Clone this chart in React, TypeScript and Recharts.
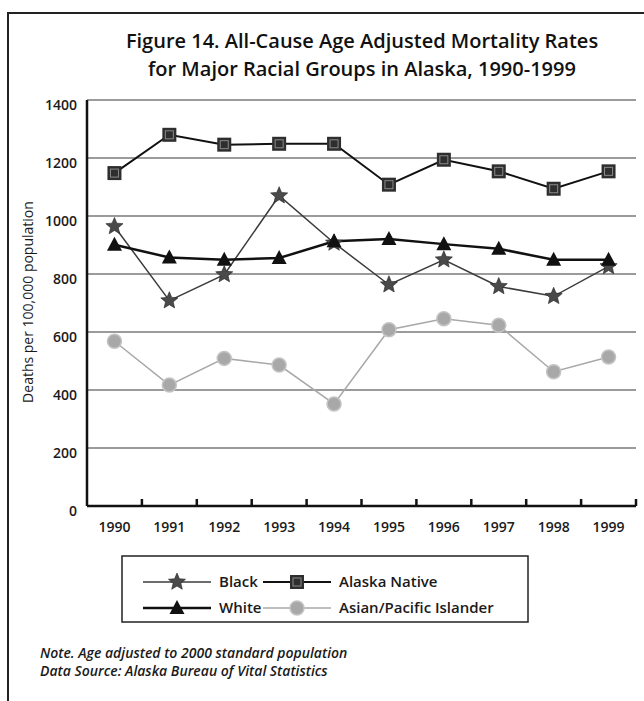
import React from 'react'
import { LineChart, Line, XAxis, YAxis, CartesianGrid } from 'recharts'

const years = ['1990', '1991', '1992', '1993', '1994', '1995', '1996', '1997', '1998', '1999']
const black = [964, 708, 798, 1070, 907, 763, 849, 757, 723, 826]
const white = [901, 857, 849, 855, 913, 921, 903, 887, 849, 849]
const alaskaNative = [1148, 1280, 1246, 1249, 1249, 1108, 1194, 1154, 1094, 1154]
const asianPacific = [568, 417, 509, 486, 352, 608, 646, 623, 463, 514]
const yTicks = [0, 200, 400, 600, 800, 1000, 1200, 1400]

const data = years.map((year, i) => ({
  year,
  black: black[i],
  white: white[i],
  alaskaNative: alaskaNative[i],
  asianPacific: asianPacific[i],
}))

const FONT = '"Open Sans", "Noto Sans", sans-serif'
const W = 644
const PLOT_LEFT = 87
const PLOT_RIGHT = 636
const HALF_BAND = (PLOT_RIGHT - PLOT_LEFT) / years.length / 2

function starPath(cx: number, cy: number, r: number) {
  const inner = r * 0.45
  let d = ''
  for (let k = 0; k < 10; k++) {
    const rad = k % 2 === 0 ? r : inner
    const a = -Math.PI / 2 + (k * Math.PI) / 5
    d += (k === 0 ? 'M' : 'L') + (cx + rad * Math.cos(a)).toFixed(2) + ',' + (cy + rad * Math.sin(a)).toFixed(2)
  }
  return d + 'Z'
}

function Star({ cx, cy }: any) {
  if (cx == null || cy == null) return null
  return <path d={starPath(cx, cy, 9)} fill="#4a4a4a" stroke="#222" strokeWidth={0.6} />
}

function Square({ cx, cy }: any) {
  if (cx == null || cy == null) return null
  return (
    <g>
      <rect x={cx - 7} y={cy - 7} width={14} height={14} fill="#2e2e2e" />
      <rect x={cx - 4} y={cy - 4} width={8} height={8} fill="none" stroke="#8a8a8a" strokeWidth={1} />
    </g>
  )
}

function Triangle({ cx, cy }: any) {
  if (cx == null || cy == null) return null
  return <path d={`M${cx},${cy - 8} L${cx + 7.5},${cy + 6} L${cx - 7.5},${cy + 6} Z`} fill="#111" />
}

function Circle({ cx, cy }: any) {
  if (cx == null || cy == null) return null
  return <circle cx={cx} cy={cy} r={7} fill="#a8a8a8" stroke="#c4c4c4" strokeWidth={1.5} />
}

function YearTick({ x, payload }: any) {
  return (
    <g>
      <line x1={x + HALF_BAND} y1={506} x2={x + HALF_BAND} y2={499} stroke="#111" strokeWidth={2.5} />
      <text x={x} y={532} textAnchor="middle" fontSize={14} fontWeight={600} fontFamily={FONT} fill="#1a1a1a">
        {payload.value}
      </text>
    </g>
  )
}

function LegendRow({ x, y, label, marker, stroke, width }: any) {
  return (
    <g>
      <line x1={x} y1={y} x2={x + 68} y2={y} stroke={stroke} strokeWidth={width} />
      {marker}
      <text x={x + 76} y={y + 5} fontSize={15} fontWeight={600} fontFamily={FONT} fill="#1a1a1a">
        {label}
      </text>
    </g>
  )
}

export default function App() {
  return (
    <div style={{ position: 'absolute', left: 0, top: 0, width: W, height: 701, background: '#fff', overflow: 'hidden' }}>
      <div
        style={{
          position: 'absolute',
          left: 7,
          top: 12,
          width: W,
          height: 701,
          borderLeft: '2px solid #222',
          borderTop: '2px solid #222',
        }}
      />
      <div style={{ position: 'absolute', left: 0, top: 0 }}>
        <LineChart width={W} height={560} data={data} margin={{ top: 100, right: W - PLOT_RIGHT, left: PLOT_LEFT - 60, bottom: 24 }}>
          <CartesianGrid stroke="#7a7a7a" strokeWidth={1.5} vertical={false} />
          <XAxis
            dataKey="year"
            tick={<YearTick />}
            tickLine={false}
            tickSize={0}
            height={30}
            padding={{ left: HALF_BAND, right: HALF_BAND }}
            axisLine={{ stroke: '#111', strokeWidth: 2.5 }}
            interval={0}
          />
          <YAxis
            domain={[0, 1400]}
            ticks={yTicks}
            width={60}
            tickLine={false}
            tickSize={0}
            axisLine={{ stroke: '#111', strokeWidth: 2.5 }}
            tick={{ fontSize: 14, fontWeight: 600, fill: '#1a1a1a', fontFamily: FONT, dx: -8, dy: 5 }}
          />
          <Line dataKey="asianPacific" stroke="#a8a8a8" strokeWidth={1.5} dot={<Circle />} isAnimationActive={false} />
          <Line dataKey="black" stroke="#3c3c3c" strokeWidth={1.5} dot={<Star />} isAnimationActive={false} />
          <Line dataKey="white" stroke="#111" strokeWidth={2.5} dot={<Triangle />} isAnimationActive={false} />
          <Line dataKey="alaskaNative" stroke="#111" strokeWidth={2} dot={<Square />} isAnimationActive={false} />
        </LineChart>
      </div>
      <svg width={W} height={701} style={{ position: 'absolute', left: 0, top: 0, pointerEvents: 'none' }}>
        <text x={362} y={48} textAnchor="middle" fontSize={20} fontWeight={600} fontFamily={FONT} fill="#111">
          Figure 14. All-Cause Age Adjusted Mortality Rates
        </text>
        <text x={362} y={76} textAnchor="middle" fontSize={20} fontWeight={600} fontFamily={FONT} fill="#111">
          for Major Racial Groups in Alaska, 1990-1999
        </text>
        <text x={0} y={0} transform="translate(33,302) rotate(-90)" textAnchor="middle" fontSize={14} fontWeight={500} fontFamily={FONT} fill="#1a1a1a">
          Deaths per 100,000 population
        </text>
        <rect x={122} y={556} width={406} height={66} fill="none" stroke="#222" strokeWidth={1.5} />
        <LegendRow x={143} y={582} label="Black" stroke="#3c3c3c" width={1.5} marker={<Star cx={177} cy={582} />} />
        <LegendRow x={143} y={608} label="White" stroke="#111" width={2.5} marker={<Triangle cx={177} cy={608} />} />
        <LegendRow x={263} y={582} label="Alaska Native" stroke="#111" width={2} marker={<Square cx={297} cy={582} />} />
        <LegendRow x={263} y={608} label="Asian/Pacific Islander" stroke="#a8a8a8" width={1.5} marker={<Circle cx={297} cy={608} />} />
        <text x={40} y={658} fontSize={14} fontStyle="italic" fontWeight={600} fontFamily={FONT} fill="#1a1a1a">
          Note. Age adjusted to 2000 standard population
        </text>
        <text x={40} y={676} fontSize={14} fontStyle="italic" fontWeight={600} fontFamily={FONT} fill="#1a1a1a">
          Data Source: Alaska Bureau of Vital Statistics
        </text>
      </svg>
    </div>
  )
}
